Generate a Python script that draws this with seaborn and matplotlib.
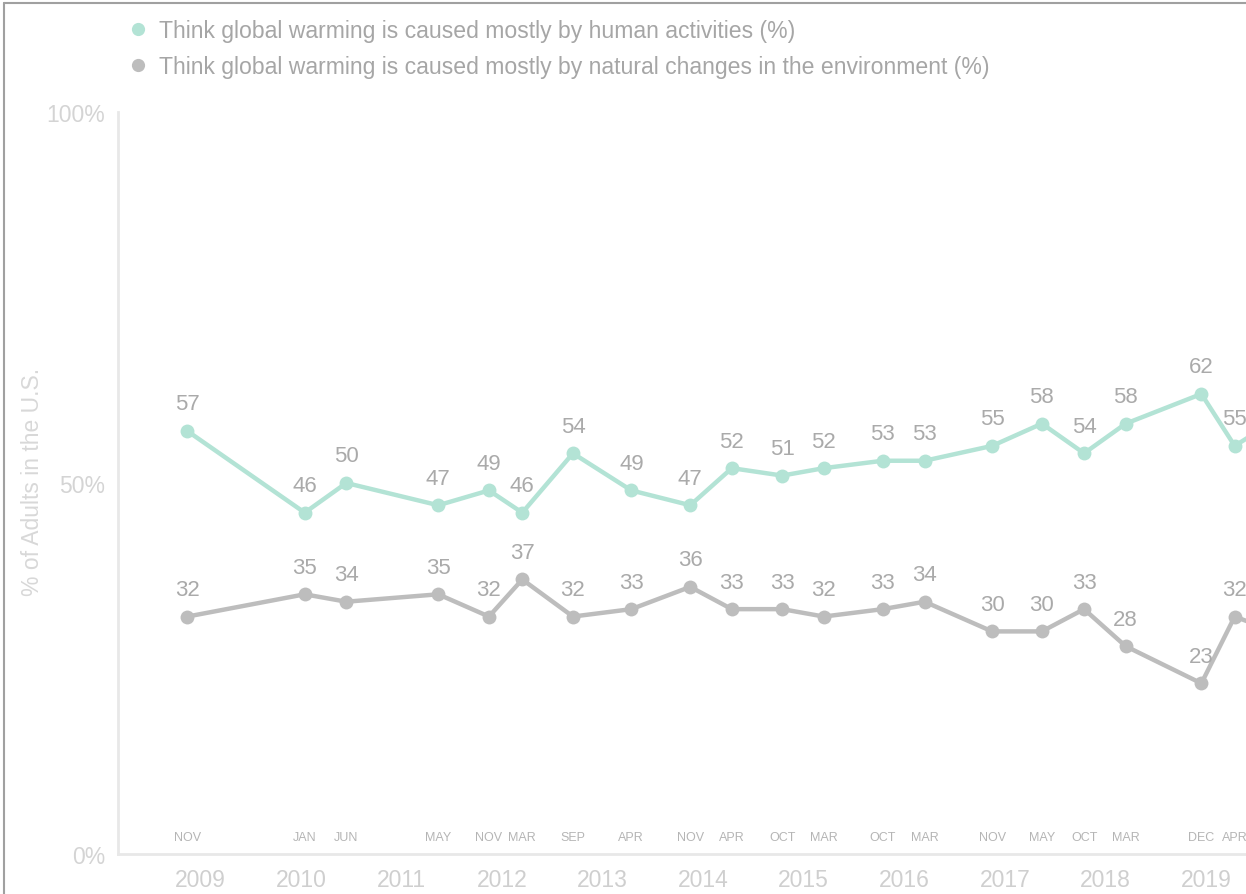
import matplotlib.pyplot as plt
import pandas as pd
import seaborn as sns
from matplotlib.lines import Line2D

sns.set_theme(style="white")
plt.rcParams["font.family"] = ["Liberation Sans", "DejaVu Sans"]

# survey waves (first wave Nov 2008; the last one runs off the right edge)
survey_dates = [
    "2008-11-15", "2010-01-15", "2010-06-15", "2011-05-15", "2011-11-15",
    "2012-03-15", "2012-09-15", "2013-04-15", "2013-11-15", "2014-04-15",
    "2014-10-15", "2015-03-15", "2015-10-15", "2016-03-15", "2016-11-15",
    "2017-05-15", "2017-10-15", "2018-03-15", "2018-12-15", "2019-04-15",
    "2019-11-15",
]
month_labels = [
    "NOV", "JAN", "JUN", "MAY", "NOV", "MAR", "SEP", "APR", "NOV", "APR",
    "OCT", "MAR", "OCT", "MAR", "NOV", "MAY", "OCT", "MAR", "DEC", "APR",
    "NOV",
]
human = [57, 46, 50, 47, 49, 46, 54, 49, 47, 52, 51, 52, 53, 53, 55, 58, 54, 58, 62, 55, 60]
natural = [32, 35, 34, 35, 32, 37, 32, 33, 36, 33, 33, 32, 33, 34, 30, 30, 33, 28, 23, 32, 29]
year_ticks = list(range(2009, 2020))

human_label = "Think global warming is caused mostly by human activities (%)"
natural_label = "Think global warming is caused mostly by natural changes in the environment (%)"

TEAL = "#b3e3d5"
GREY = "#bdbdbd"

dates = pd.to_datetime(survey_dates)
df = pd.concat([
    pd.DataFrame({"date": dates, "value": human, "series": human_label}),
    pd.DataFrame({"date": dates, "value": natural, "series": natural_label}),
])

W, H = 1246, 895
fig = plt.figure(figsize=(W / 100, H / 100), dpi=100)
ax = fig.add_axes([118 / W, 1 - 855 / H, 1 - 118 / W, (855 - 113) / H])

sns.lineplot(
    data=df, x="date", y="value", hue="series",
    palette={human_label: TEAL, natural_label: GREY},
    marker="o", markersize=10, markeredgewidth=0, linewidth=3.2,
    legend=False, ax=ax,
)

# data labels above each point
for d, h, n in zip(dates, human, natural):
    for v in (h, n):
        ax.annotate(str(v), (d, v), xytext=(0, 19.5), textcoords="offset points",
                    ha="center", va="center", fontsize=16, color="#aaaaaa",
                    annotation_clip=True)

# survey month labels sitting just above the x axis
for d, m in zip(dates, month_labels):
    ax.text(d, 2.3, m, ha="center", va="center", fontsize=9, color="#b5b5b5",
            clip_on=True)

ax.set_xlim(pd.Timestamp("2008-03-08"), pd.Timestamp("2019-05-26"))
ax.set_ylim(0, 100)
ax.set_yticks([0, 50, 100])
ax.set_yticklabels(["0%", "50%", "100%"])
ax.set_xticks(pd.to_datetime([f"{y}-01-01" for y in year_ticks]))
ax.set_xticklabels([str(y) for y in year_ticks])
ax.tick_params(axis="y", labelsize=16.5, labelcolor="#d4d4d4", length=0, pad=9)
ax.tick_params(axis="x", labelsize=16.5, labelcolor="#cfcfcf", length=0, pad=10)
ax.set_xlabel("")
ax.set_ylabel("% of Adults in the U.S.", fontsize=16.5, color="#d8d8d8")
ax.yaxis.set_label_coords(-0.066, 0.503)

for side in ("top", "right"):
    ax.spines[side].set_visible(False)
for side in ("left", "bottom"):
    ax.spines[side].set_color("#e8e8e8")
    ax.spines[side].set_linewidth(2)

handles = [
    Line2D([], [], marker="o", linestyle="", markersize=9.5, markeredgewidth=0, color=TEAL),
    Line2D([], [], marker="o", linestyle="", markersize=9.5, markeredgewidth=0, color=GREY),
]
fig.legend(handles, [human_label, natural_label], loc="upper left",
           bbox_to_anchor=(129 / W, 1 - 20 / H), frameon=False,
           fontsize=16.6, labelcolor="#a6a6a6", handletextpad=0.48,
           labelspacing=0.55, handlelength=0.8, borderaxespad=0, borderpad=0)

# screenshot frame on the left and top edges
fig.add_artist(Line2D([4 / W, 4 / W], [0, 1 - 4 / H], transform=fig.transFigure,
                      color="#a0a0a0", linewidth=1.5))
fig.add_artist(Line2D([4 / W, 1], [1 - 4 / H, 1 - 4 / H], transform=fig.transFigure,
                      color="#a0a0a0", linewidth=1.5))

fig.savefig("out.png", dpi=100)
